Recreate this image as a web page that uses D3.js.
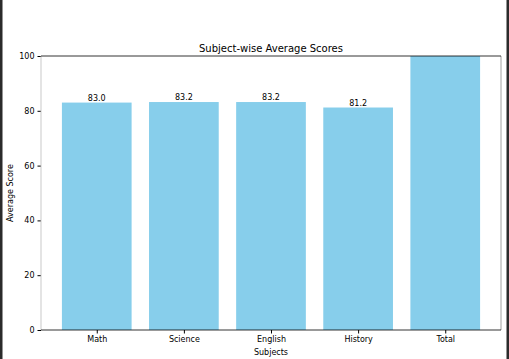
<!DOCTYPE html>
<html lang="en">
<head>
<meta charset="utf-8">
<script src="https://d3js.org/d3.v7.min.js"></script>
<title>Subject-wise Average Scores</title>
<style>
  body { margin:0; background:#fff; }
  text { font-family:"DejaVu Sans", sans-serif; fill:#000; }
</style>
</head>
<body>
<script>
var subjects = ["Math", "Science", "English", "History", "Total"];
var scores = [83.0, 83.2, 83.2, 81.2, 330.6];
var yTicks = [0, 20, 40, 60, 80, 100];

var width = 509, height = 359;
var mLeft = 41, mRight = 501, mTop = 56, mBottom = 330;

var svg = d3.select("body").append("svg")
  .attr("width", width).attr("height", height);

svg.append("rect").attr("width", width).attr("height", height).attr("fill", "#fff");

// 5 bars of width 0.8, matplotlib-style margins
var x = d3.scaleLinear().domain([-0.64, subjects.length - 1 + 0.64]).range([mLeft, mRight]);
var y = d3.scaleLinear().domain([0, 100]).range([mBottom, mTop]);

svg.append("clipPath").attr("id", "clip")
  .append("rect").attr("x", mLeft).attr("y", mTop).attr("width", mRight - mLeft).attr("height", mBottom - mTop);

var data = subjects.map(function(s, i){ return {name:s, v:scores[i], i:i}; });

svg.append("g").attr("clip-path", "url(#clip)")
  .selectAll("rect").data(data).enter().append("rect")
  .attr("x", function(d){ return x(d.i - 0.4); })
  .attr("width", function(d){ return x(0.8) - x(0); })
  .attr("y", function(d){ return y(d.v); })
  .attr("height", function(d){ return y(0) - y(d.v); })
  .attr("fill", "#87ceeb");

// value labels; the one above the y limit falls outside the axes and is not shown
svg.append("g")
  .selectAll("text").data(data.filter(function(d){ return d.v <= 100; })).enter().append("text")
  .attr("x", function(d){ return x(d.i); })
  .attr("y", function(d){ return y(d.v) - 2; })
  .attr("text-anchor", "middle")
  .attr("font-size", "8px")
  .text(function(d){ return d.v.toFixed(1); });

// axes
var xAxis = d3.axisBottom(x).tickValues(d3.range(subjects.length))
  .tickFormat(function(i){ return subjects[i]; }).tickSize(3.5).tickPadding(3);
var gx = svg.append("g").attr("transform", "translate(0," + mBottom + ")").call(xAxis);
gx.select(".domain").remove();
gx.selectAll("text").attr("font-size", "8px").attr("font-family", "DejaVu Sans, sans-serif");

var yAxis = d3.axisLeft(y).tickValues(yTicks).tickSize(3.5).tickPadding(3);
var gy = svg.append("g").attr("transform", "translate(" + mLeft + ",0)").call(yAxis);
gy.select(".domain").remove();
gy.selectAll("text").attr("font-size", "8px").attr("font-family", "DejaVu Sans, sans-serif");

// spines
svg.append("line").attr("x1", mLeft).attr("x2", mLeft).attr("y1", mTop).attr("y2", mBottom)
  .attr("stroke", "#bbb").attr("stroke-width", 0.8);
svg.append("line").attr("x1", mRight).attr("x2", mRight).attr("y1", mTop).attr("y2", mBottom)
  .attr("stroke", "#888").attr("stroke-width", 0.8);
svg.append("line").attr("x1", mLeft).attr("x2", mRight).attr("y1", mTop).attr("y2", mTop)
  .attr("stroke", "#000").attr("stroke-width", 0.8);
svg.append("line").attr("x1", mLeft).attr("x2", mRight).attr("y1", mBottom).attr("y2", mBottom)
  .attr("stroke", "#000").attr("stroke-width", 0.8);

svg.append("text").attr("x", (mLeft + mRight) / 2).attr("y", mTop - 4)
  .attr("text-anchor", "middle").attr("font-size", "10px").text("Subject-wise Average Scores");

svg.append("text").attr("x", (mLeft + mRight) / 2).attr("y", 355)
  .attr("text-anchor", "middle").attr("font-size", "8px").text("Subjects");

svg.append("text").attr("transform", "translate(13," + ((mTop + mBottom) / 2) + ") rotate(-90)")
  .attr("text-anchor", "middle").attr("font-size", "8px").text("Average Score");

// dark window frame
svg.append("rect").attr("x", 0).attr("y", 0).attr("width", 2.5).attr("height", height).attr("fill", "#2b2b2b");
svg.append("rect").attr("x", 506.5).attr("y", 0).attr("width", 2.5).attr("height", height).attr("fill", "#2b2b2b");
</script>
</body>
</html>
